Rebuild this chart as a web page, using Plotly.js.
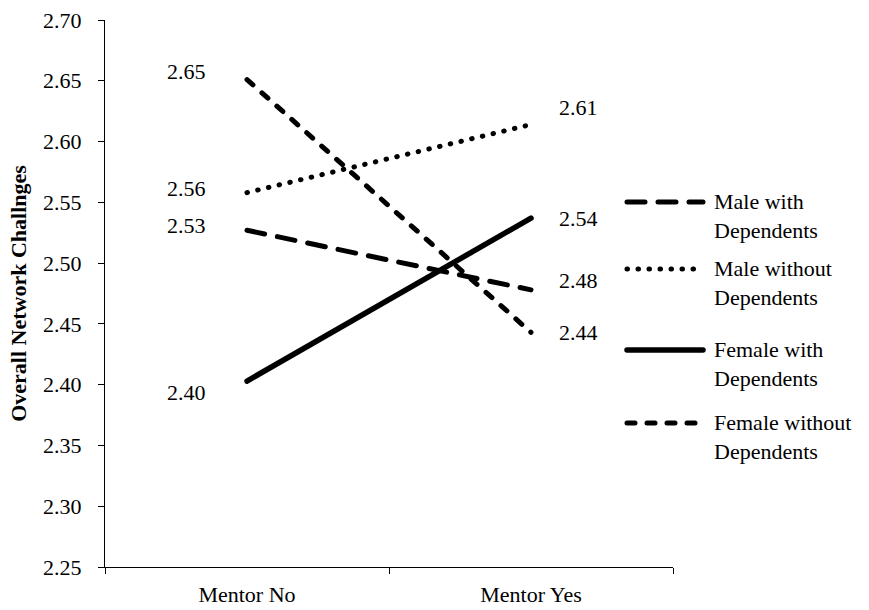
<!DOCTYPE html>
<html>
<head>
<meta charset="utf-8">
<script src="https://cdn.plot.ly/plotly-3.0.1.min.js"></script>
<style>
html,body{margin:0;padding:0;background:#fff;}
#chart{width:869px;height:610px;}
.scatterlayer .js-line{stroke-linecap:round;}
.shapelayer path{stroke-linecap:round;}
</style>
</head>
<body>
<div id="chart"></div>
<script>
// ---- data ----
var categories = ["Mentor No", "Mentor Yes"];
var seriesNames = ["Male with<br>Dependents", "Male without<br>Dependents", "Female with<br>Dependents", "Female without<br>Dependents"];
var maleWithDependents = [2.527, 2.478];
var maleWithoutDependents = [2.558, 2.614];
var femaleWithDependents = [2.403, 2.537];
var femaleWithoutDependents = [2.651, 2.443];
var yTickValues = [2.25, 2.30, 2.35, 2.40, 2.45, 2.50, 2.55, 2.60, 2.65, 2.70];

// ---- styling ----
var series = [maleWithDependents, maleWithoutDependents, femaleWithDependents, femaleWithoutDependents];
var dashes = ["18px,13px", "0.5px,10.5px", "solid", "8px,12px"];
var widths = [5, 5, 5.5, 5];
// label vertical nudges in px (left point, right point)
var labelNudge = [[5, 9], [4, 17], [-11, 0], [8, 0]];
var FONT = "Liberation Serif";
var FS = 22;

var M = {l: 105, r: 196, t: 20, b: 43};
var W = 869, H = 610;
var pw = W - M.l - M.r, ph = H - M.t - M.b;
function pxX(px){ return (px - M.l) / pw; }
function pxY(py){ return (H - M.b - py) / ph; }

var traces = series.map(function(vals, i){
  return {
    x: categories, y: vals, type: "scatter", mode: "lines",
    name: seriesNames[i], showlegend: false, hoverinfo: "skip",
    line: {color: "#000", width: widths[i], dash: dashes[i]}
  };
});

var annotations = [];
var shapes = [];
series.forEach(function(vals, i){
  vals.forEach(function(v, j){
    annotations.push({
      xref: "x", yref: "y", x: categories[j], y: v,
      xshift: j === 0 ? -61 : 47, yshift: labelNudge[i][j],
      text: v.toFixed(2), showarrow: false,
      xanchor: "center", yanchor: "middle",
      font: {family: FONT, size: FS, color: "#000"}
    });
  });
});

// legend drawn at right
var legendY = [202, 269, 350, 423];
seriesNames.forEach(function(n, i){
  shapes.push({
    type: "line", xref: "paper", yref: "paper",
    x0: pxX(627), x1: pxX(703), y0: pxY(legendY[i]), y1: pxY(legendY[i]),
    line: {color: "#000", width: widths[i], dash: dashes[i]}
  });
  annotations.push({
    xref: "paper", yref: "paper", x: pxX(712), y: pxY(legendY[i] + 14),
    text: n, showarrow: false, xanchor: "left", yanchor: "middle", align: "left",
    font: {family: FONT, size: FS, color: "#000"}
  });
});

var layout = {
  width: W, height: H,
  margin: M,
  paper_bgcolor: "#fff", plot_bgcolor: "#fff",
  showlegend: false,
  font: {family: FONT, size: FS, color: "#000"},
  xaxis: {
    type: "category", range: [-0.5, 1.5],
    showgrid: false, zeroline: false,
    showline: true, linecolor: "#000", linewidth: 1,
    ticks: "outside", tickson: "boundaries", ticklen: 6, tickcolor: "#000", tickwidth: 1,
    ticklabelstandoff: 8,
    tickfont: {family: FONT, size: FS, color: "#000"}
  },
  yaxis: {
    range: [2.25, 2.70], tickvals: yTickValues, tickformat: ".2f",
    showgrid: false, zeroline: false,
    showline: true, linecolor: "#000", linewidth: 1,
    ticks: "outside", ticklen: 6, tickcolor: "#000", tickwidth: 1,
    ticklabelstandoff: 12,
    tickfont: {family: FONT, size: FS, color: "#000"},
    title: {text: "<b>Overall Network Challnges</b>", standoff: 10,
            font: {family: FONT, size: 22, color: "#000"}}
  },
  shapes: shapes,
  annotations: annotations
};

Plotly.newPlot("chart", traces, layout, {staticPlot: true, displayModeBar: false});
</script>
</body>
</html>
